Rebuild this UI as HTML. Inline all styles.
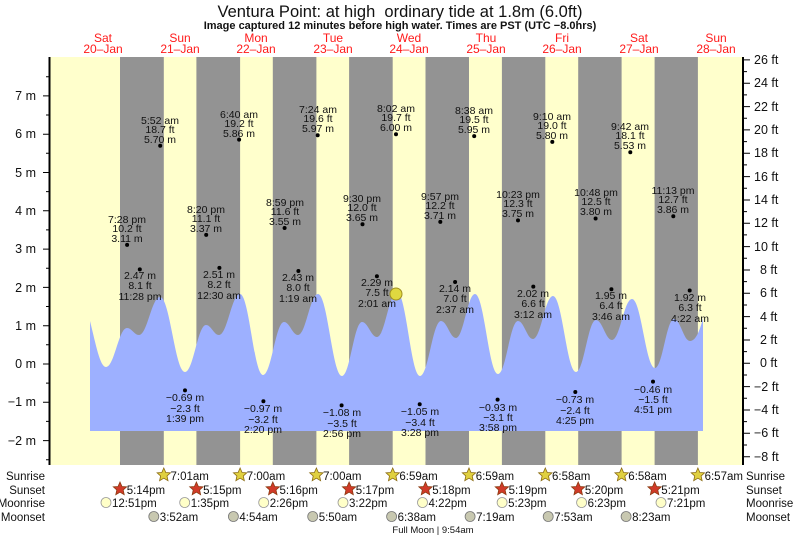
<!DOCTYPE html>
<html><head><meta charset="utf-8"><style>
html,body{margin:0;padding:0;background:#fff}
svg{display:block}
text{font-family:"Liberation Sans",Arial,sans-serif;fill:#111}
.l{font-size:10.5px;text-anchor:middle}
.d{font-size:12px;text-anchor:middle;fill:#ff1a1a}
.ax{font-size:12.5px}
.r{font-size:11.5px}
</style></head><body>
<svg width="793" height="539" viewBox="0 0 793 539" xmlns="http://www.w3.org/2000/svg">
<defs>
<polygon id="st" points="0,-7 2,-2.5 6.7,-2.2 3.2,1 4.2,5.7 0,3.2 -4.2,5.7 -3.2,1 -6.7,-2.2 -2,-2.5"/>
</defs>
<text x="400" y="17" style="font-size:16.5px;text-anchor:middle;white-space:pre">Ventura Point: at high  ordinary tide at 1.8m (6.0ft)</text>
<text x="400" y="29" style="font-size:11px;font-weight:bold;text-anchor:middle">Image captured 12 minutes before high water. Times are PST (UTC −8.0hrs)</text>
<g>
<text class="d" x="103" y="42">Sat</text><text class="d" x="103" y="53">20–Jan</text>
<text class="d" x="180" y="42">Sun</text><text class="d" x="180" y="53">21–Jan</text>
<text class="d" x="256" y="42">Mon</text><text class="d" x="256" y="53">22–Jan</text>
<text class="d" x="333" y="42">Tue</text><text class="d" x="333" y="53">23–Jan</text>
<text class="d" x="409" y="42">Wed</text><text class="d" x="409" y="53">24–Jan</text>
<text class="d" x="486" y="42">Thu</text><text class="d" x="486" y="53">25–Jan</text>
<text class="d" x="562" y="42">Fri</text><text class="d" x="562" y="53">26–Jan</text>
<text class="d" x="639" y="42">Sat</text><text class="d" x="639" y="53">27–Jan</text>
<text class="d" x="716" y="42">Sun</text><text class="d" x="716" y="53">28–Jan</text>
</g>
<rect x="50" y="57" width="693" height="408" fill="#ffffcc"/>
<g fill="#939393">
<rect x="120" y="57" width="43.8" height="408"/>
<rect x="196.4" y="57" width="43.7" height="408"/>
<rect x="272.8" y="57" width="43.6" height="408"/>
<rect x="349.1" y="57" width="43.6" height="408"/>
<rect x="425.5" y="57" width="43.5" height="408"/>
<rect x="501.9" y="57" width="43.4" height="408"/>
<rect x="578.2" y="57" width="43.4" height="408"/>
<rect x="654.6" y="57" width="43.3" height="408"/>
</g>
<path fill="#9db0ff" d="M90,321 C96,345 100,367 106,367 C114.4,367 118.6,328 127,328 C131.8,328 134.2,335 139,335 C147.4,335 151.6,297 160,297 C170,297 175,372 185,372 C193.4,372 197.6,325 206,325 C211.2,325 213.8,335 219,335 C227.4,335 231.6,294 240,294 C249.2,294 253.8,375 263,375 C271.4,375 275.6,322 284,322 C289.6,322 292.4,335 298,335 C306,335 310,294 318,294 C327.6,294 332.4,376 342,376 C350,376 354,322 362,322 C368,322 371,337 377,337 C385,337 389,292 397,292 C406.2,292 410.8,376 420,376 C428.4,376 432.6,321 441,321 C447,321 450,338 456,338 C463.6,338 467.4,294 475,294 C484.2,294 488.8,374 498,374 C506,374 510,321 518,321 C524,321 527,339 533,339 C541,339 545,296 553,296 C562.2,296 566.8,372 576,372 C584,372 588,320 596,320 C602.4,320 605.6,340 612,340 C620,340 624,299 632,299 C641.2,299 645.8,368 655,368 C662.6,368 666.4,319 674,319 C680.4,319 683.6,341 690,341 C696,341 700,330 703,318 L703,431 L90,431 Z"/>
<circle cx="396" cy="294" r="6" fill="#e0d840" stroke="#a09020" stroke-width="1"/>
<g stroke="#000" fill="none">
<line x1="49.5" y1="57" x2="49.5" y2="465" stroke-width="2"/>
<line x1="743" y1="57" x2="743" y2="465" stroke-width="2"/>
<path stroke-width="1" d="M43,95.9H49M43,134.2H49M43,172.5H49M43,210.8H49M43,249.1H49M43,287.4H49M43,325.7H49M43,364H49M43,402.3H49M43,440.6H49M46,76.7H49M46,115H49M46,153.3H49M46,191.6H49M46,229.9H49M46,268.2H49M46,306.5H49M46,344.8H49M46,383.1H49M46,421.4H49M46,459.8H49"/>
<path stroke-width="1" d="M743,59.9H750M743,83.2H750M743,106.6H750M743,129.9H750M743,153.2H750M743,176.6H750M743,200H750M743,223.3H750M743,246.6H750M743,270H750M743,293.3H750M743,316.6H750M743,340H750M743,363.3H750M743,386.6H750M743,410H750M743,433.3H750M743,456.7H750M743,71.6H747M743,94.9H747M743,118.3H747M743,141.6H747M743,164.9H747M743,188.3H747M743,211.6H747M743,234.9H747M743,258.3H747M743,281.6H747M743,305H747M743,328.3H747M743,351.6H747M743,375H747M743,398.3H747M743,421.6H747M743,445H747"/>
</g>
<g class="ax" style="text-anchor:end">
<text x="36" y="100">7 m</text><text x="36" y="138">6 m</text><text x="36" y="177">5 m</text><text x="36" y="215">4 m</text><text x="36" y="253">3 m</text><text x="36" y="292">2 m</text><text x="36" y="330">1 m</text><text x="36" y="368">0 m</text><text x="36" y="406">−1 m</text><text x="36" y="445">−2 m</text>
</g>
<g class="ax">
<text x="754" y="64">26 ft</text><text x="754" y="87">24 ft</text><text x="754" y="111">22 ft</text><text x="754" y="134">20 ft</text><text x="754" y="157">18 ft</text><text x="754" y="181">16 ft</text><text x="754" y="204">14 ft</text><text x="754" y="227">12 ft</text><text x="754" y="251">10 ft</text><text x="760" y="274">8 ft</text><text x="760" y="297">6 ft</text><text x="760" y="321">4 ft</text><text x="760" y="344">2 ft</text><text x="760" y="367">0 ft</text><text x="754" y="391">−2 ft</text><text x="754" y="414">−4 ft</text><text x="754" y="437">−6 ft</text><text x="754" y="461">−8 ft</text>
</g>
<g fill="#000">
<circle cx="160.2" cy="145.7" r="2"/><circle cx="239.1" cy="139.6" r="2"/><circle cx="317.7" cy="135.3" r="2"/><circle cx="396" cy="134.2" r="2"/><circle cx="474.2" cy="136.1" r="2"/><circle cx="552.3" cy="141.9" r="2"/><circle cx="630.3" cy="152.2" r="2"/>
<circle cx="127.1" cy="244.9" r="2"/><circle cx="206.2" cy="234.9" r="2"/><circle cx="284.6" cy="228" r="2"/><circle cx="362.5" cy="224.2" r="2"/><circle cx="440.3" cy="221.9" r="2"/><circle cx="518" cy="220.4" r="2"/><circle cx="595.6" cy="218.5" r="2"/><circle cx="673.3" cy="216.2" r="2"/>
<circle cx="139.8" cy="269.4" r="2"/><circle cx="219.4" cy="267.9" r="2"/><circle cx="298.4" cy="271" r="2"/><circle cx="376.9" cy="276.3" r="2"/><circle cx="455.1" cy="282" r="2"/><circle cx="533.3" cy="286.6" r="2"/><circle cx="611.4" cy="289.3" r="2"/><circle cx="689.7" cy="290.5" r="2"/>
<circle cx="185" cy="390.4" r="2"/><circle cx="263.4" cy="401.2" r="2"/><circle cx="341.6" cy="405.4" r="2"/><circle cx="419.7" cy="404.2" r="2"/><circle cx="497.6" cy="399.6" r="2"/><circle cx="575.3" cy="392" r="2"/><circle cx="653" cy="381.6" r="2"/>
</g>
<g class="l">
<text x="160" y="124">5:52 am</text><text x="160" y="133">18.7 ft</text><text x="160" y="143">5.70 m</text>
<text x="239" y="118">6:40 am</text><text x="239" y="127">19.2 ft</text><text x="239" y="137">5.86 m</text>
<text x="318" y="113">7:24 am</text><text x="318" y="122">19.6 ft</text><text x="318" y="132">5.97 m</text>
<text x="396" y="112">8:02 am</text><text x="396" y="121">19.7 ft</text><text x="396" y="131">6.00 m</text>
<text x="474" y="114">8:38 am</text><text x="474" y="123">19.5 ft</text><text x="474" y="133">5.95 m</text>
<text x="552" y="120">9:10 am</text><text x="552" y="129">19.0 ft</text><text x="552" y="139">5.80 m</text>
<text x="630" y="130">9:42 am</text><text x="630" y="139">18.1 ft</text><text x="630" y="149">5.53 m</text>
<text x="127" y="223">7:28 pm</text><text x="127" y="232">10.2 ft</text><text x="127" y="242">3.11 m</text>
<text x="206" y="213">8:20 pm</text><text x="206" y="222">11.1 ft</text><text x="206" y="232">3.37 m</text>
<text x="285" y="206">8:59 pm</text><text x="285" y="215">11.6 ft</text><text x="285" y="225">3.55 m</text>
<text x="362" y="202">9:30 pm</text><text x="362" y="211">12.0 ft</text><text x="362" y="221">3.65 m</text>
<text x="440" y="200">9:57 pm</text><text x="440" y="209">12.2 ft</text><text x="440" y="219">3.71 m</text>
<text x="518" y="198">10:23 pm</text><text x="518" y="207">12.3 ft</text><text x="518" y="217">3.75 m</text>
<text x="596" y="196">10:48 pm</text><text x="596" y="205">12.5 ft</text><text x="596" y="215">3.80 m</text>
<text x="673" y="194">11:13 pm</text><text x="673" y="203">12.7 ft</text><text x="673" y="213">3.86 m</text>
<text x="140" y="279">2.47 m</text><text x="140" y="289">8.1 ft</text><text x="140" y="300">11:28 pm</text>
<text x="219" y="278">2.51 m</text><text x="219" y="288">8.2 ft</text><text x="219" y="299">12:30 am</text>
<text x="298" y="281">2.43 m</text><text x="298" y="291">8.0 ft</text><text x="298" y="302">1:19 am</text>
<text x="377" y="286">2.29 m</text><text x="377" y="296">7.5 ft</text><text x="377" y="307">2:01 am</text>
<text x="455" y="292">2.14 m</text><text x="455" y="302">7.0 ft</text><text x="455" y="313">2:37 am</text>
<text x="533" y="297">2.02 m</text><text x="533" y="307">6.6 ft</text><text x="533" y="318">3:12 am</text>
<text x="611" y="299">1.95 m</text><text x="611" y="309">6.4 ft</text><text x="611" y="320">3:46 am</text>
<text x="690" y="301">1.92 m</text><text x="690" y="311">6.3 ft</text><text x="690" y="322">4:22 am</text>
<text x="185" y="401">−0.69 m</text><text x="185" y="412">−2.3 ft</text><text x="185" y="422">1:39 pm</text>
<text x="263" y="412">−0.97 m</text><text x="263" y="423">−3.2 ft</text><text x="263" y="433">2:20 pm</text>
<text x="342" y="416">−1.08 m</text><text x="342" y="427">−3.5 ft</text><text x="342" y="437">2:56 pm</text>
<text x="420" y="415">−1.05 m</text><text x="420" y="426">−3.4 ft</text><text x="420" y="436">3:28 pm</text>
<text x="498" y="411">−0.93 m</text><text x="498" y="421">−3.1 ft</text><text x="498" y="431">3:58 pm</text>
<text x="575" y="403">−0.73 m</text><text x="575" y="414">−2.4 ft</text><text x="575" y="424">4:25 pm</text>
<text x="653" y="393">−0.46 m</text><text x="653" y="403">−1.5 ft</text><text x="653" y="413">4:51 pm</text>
</g>
<g class="r" style="text-anchor:end">
<text x="45" y="480">Sunrise</text><text x="45" y="494">Sunset</text><text x="45" y="507">Moonrise</text><text x="45" y="521">Moonset</text>
</g>
<g class="r">
<text x="746" y="480">Sunrise</text><text x="746" y="494">Sunset</text><text x="746" y="507">Moonrise</text><text x="746" y="521">Moonset</text>
</g>
<g fill="#e0d040" stroke="#8a6a10" stroke-width="0.8">
<use href="#st" x="163.8" y="475"/><use href="#st" x="240.1" y="475"/><use href="#st" x="316.4" y="475"/><use href="#st" x="392.7" y="475"/><use href="#st" x="469" y="475"/><use href="#st" x="545.3" y="475"/><use href="#st" x="621.6" y="475"/><use href="#st" x="697.9" y="475"/>
</g>
<g fill="#d03a28" stroke="#8a3a10" stroke-width="0.8">
<use href="#st" x="120" y="489"/><use href="#st" x="196.4" y="489"/><use href="#st" x="272.8" y="489"/><use href="#st" x="349.1" y="489"/><use href="#st" x="425.5" y="489"/><use href="#st" x="501.9" y="489"/><use href="#st" x="578.2" y="489"/><use href="#st" x="654.6" y="489"/>
</g>
<g fill="#ffffc8" stroke="#999" stroke-width="0.8">
<circle cx="106" cy="502.5" r="5"/><circle cx="184.7" cy="502.5" r="5"/><circle cx="263.7" cy="502.5" r="5"/><circle cx="343" cy="502.5" r="5"/><circle cx="422.5" cy="502.5" r="5"/><circle cx="502.1" cy="502.5" r="5"/><circle cx="581.6" cy="502.5" r="5"/><circle cx="661" cy="502.5" r="5"/>
</g>
<g fill="#c8c8b0" stroke="#777" stroke-width="0.8">
<circle cx="153.8" cy="516.5" r="5"/><circle cx="233.4" cy="516.5" r="5"/><circle cx="312.7" cy="516.5" r="5"/><circle cx="391.6" cy="516.5" r="5"/><circle cx="470.1" cy="516.5" r="5"/><circle cx="548.2" cy="516.5" r="5"/><circle cx="626.1" cy="516.5" r="5"/>
</g>
<g class="r">
<text x="170.5" y="480">7:01am</text><text x="246.8" y="480">7:00am</text><text x="323.1" y="480">7:00am</text><text x="399.4" y="480">6:59am</text><text x="475.7" y="480">6:59am</text><text x="552" y="480">6:58am</text><text x="628.3" y="480">6:58am</text><text x="704.6" y="480">6:57am</text>
<text x="126.7" y="494">5:14pm</text><text x="203.1" y="494">5:15pm</text><text x="279.5" y="494">5:16pm</text><text x="355.8" y="494">5:17pm</text><text x="432.2" y="494">5:18pm</text><text x="508.6" y="494">5:19pm</text><text x="584.9" y="494">5:20pm</text><text x="661.3" y="494">5:21pm</text>
<text x="112" y="507">12:51pm</text><text x="190.7" y="507">1:35pm</text><text x="269.7" y="507">2:26pm</text><text x="349" y="507">3:22pm</text><text x="428.5" y="507">4:22pm</text><text x="508.1" y="507">5:23pm</text><text x="587.6" y="507">6:23pm</text><text x="667" y="507">7:21pm</text>
<text x="159.8" y="521">3:52am</text><text x="239.4" y="521">4:54am</text><text x="318.7" y="521">5:50am</text><text x="397.6" y="521">6:38am</text><text x="476.1" y="521">7:19am</text><text x="554.2" y="521">7:53am</text><text x="632.1" y="521">8:23am</text>
</g>
<text x="433" y="533" style="font-size:9.5px;text-anchor:middle">Full Moon | 9:54am</text>
</svg>
</body></html>
